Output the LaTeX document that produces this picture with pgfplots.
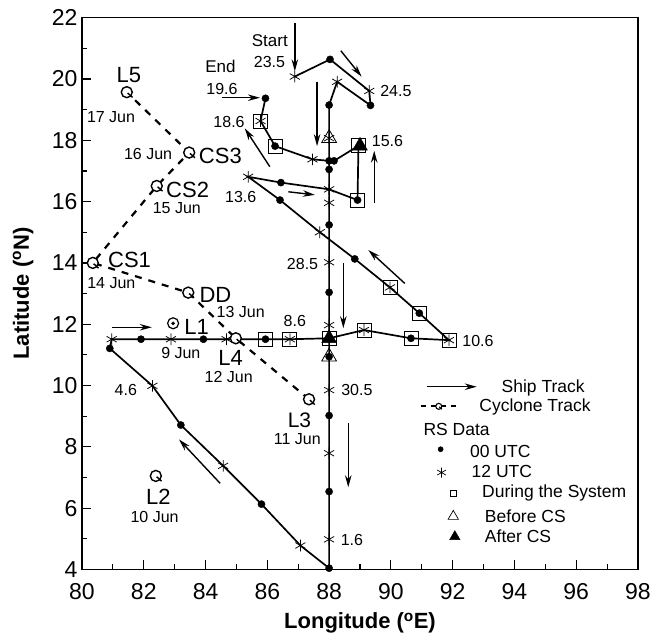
\documentclass[border=0pt]{standalone}
\usepackage{fontspec}
\setmainfont{Liberation Sans}
\usepackage{pgfplots}
\pgfplotsset{compat=1.18}
\usetikzlibrary{arrows.meta}

\pgfdeclareplotmark{cyc}{%
  \pgfpathcircle{\pgfpointorigin}{\pgfplotmarksize}\pgfusepathqfillstroke
  \pgfpathmoveto{\pgfpoint{0.15\pgfplotmarksize}{-0.15\pgfplotmarksize}}%
  \pgfpathlineto{\pgfpoint{1.05\pgfplotmarksize}{-0.95\pgfplotmarksize}}\pgfusepathqstroke}

\newcommand{\fs}[1]{\fontsize{#1}{#1}\selectfont}

\begin{document}
\begin{tikzpicture}
\begin{axis}[
  at={(82pt,71.6pt)}, anchor=south west,
  scale only axis, width=556pt, height=551.7pt,
  xmin=80, xmax=98, ymin=4, ymax=22,
  xtick={80,82,...,98}, ytick={4,6,...,22},
  minor x tick num=1, minor y tick num=1,
  tick align=inside, xtick pos=bottom, ytick pos=left,
  major tick length=9pt, minor tick length=5pt,
  axis line style={line width=1.4pt},
  every tick/.append style={line width=1.2pt, black},
  /pgf/number format/assume math mode=true,
  ticklabel style={font=\fs{23}},
  xticklabel style={yshift=-11pt},
  yticklabel style={xshift=-1pt},
  xlabel={\textbf{Longitude (\textsuperscript{o}E)}},
  ylabel={\textbf{Latitude (\textsuperscript{o}N)}},
  label style={font=\fs{22}},
  xlabel style={at={(axis description cs:0.5,-0.097)}, anchor=center},
  ylabel style={at={(axis description cs:-0.106,0.5)}, anchor=center},
  clip=false,
]
% ---- ship track line
\addplot[line width=1.7pt, mark=none] coordinates {
(86.89,20.08) (88.03,20.64) (89.3,19.61) (89.34,19.14) (88.26,19.91) (88.0,19.15)
(88.0,4.04) (87.07,4.78) (85.81,6.13) (84.57,7.38) (83.2,8.71) (82.28,9.99) (80.9,11.21)
(80.96,11.51) (81.91,11.51) (82.88,11.51) (83.93,11.51) (84.68,11.51) (85.94,11.51) (86.73,11.51)
(88.0,11.54) (89.13,11.81) (90.65,11.54) (91.88,11.48) (90.92,12.36) (89.97,13.2) (88.83,14.13)
(87.7,15.0) (86.41,16.05) (85.38,16.81) (86.44,16.62) (88.0,16.4) (88.92,16.05) (88.95,17.82)
(88.16,17.33) (88.0,17.33) (87.46,17.38) (86.25,17.81) (85.78,18.63) (85.94,19.37)};
% ---- during the system (boxes)
\addplot[only marks, mark=square, mark size=7pt, line width=0.8pt, mark options={fill=white}] coordinates {
(85.78,18.63) (86.25,17.81) (88.95,17.82) (88.92,16.05) (89.97,13.2) (90.92,12.36) (91.88,11.48)
(90.65,11.54) (89.13,11.81) (88.0,11.54) (86.73,11.51) (85.94,11.51)};
% ---- 00 UTC
\addplot[only marks, mark=*, mark size=3.6pt] coordinates {
(88.03,20.64) (89.34,19.14) (88.0,19.15) (85.94,19.37) (86.25,17.81) (88.16,17.33) (88.0,17.33)
(88.0,17.05) (86.44,16.62) (86.41,16.05) (88.92,16.05) (88.0,15.24) (88.83,14.13) (88.0,13.04)
(90.92,12.36) (81.91,11.51) (83.93,11.51) (85.94,11.51) (90.65,11.54) (88.0,10.94) (80.9,11.21)
(83.2,8.71) (88.0,9.02) (85.81,6.13) (88.0,6.54) (88.0,4.04)};
% ---- 12 UTC
\addplot[only marks, mark=asterisk, mark size=5.8pt, line width=0.75pt] coordinates {
(86.89,20.08) (89.3,19.61) (88.26,19.91) (88.0,18.07) (87.46,17.38) (85.78,18.63) (85.38,16.81)
(88.0,16.4) (88.0,15.96) (87.7,15.0) (88.0,14.02) (89.97,13.2) (88.0,11.97) (89.13,11.81)
(91.88,11.48) (80.96,11.51) (82.88,11.51) (84.68,11.51) (86.73,11.51) (88.0,9.85) (82.28,9.99)
(84.57,7.38) (88.0,7.79) (87.07,4.78) (88.0,4.98)};
% ---- before CS
\addplot[only marks, mark=triangle, mark size=8.5pt, line width=0.8pt] coordinates {(88.0,18.07) (88.0,10.94)};
% ---- after CS
\addplot[only marks, mark=triangle*, mark size=8.5pt] coordinates {(89.0,17.82) (88.0,11.54)};
% ---- cyclone track
\addplot[line width=2.2pt, dash pattern=on 7pt off 7pt, mark=none] coordinates {
(87.35,9.55) (84.98,11.54) (83.44,13.03) (80.35,14.0) (82.42,16.51) (83.47,17.6) (81.45,19.57)};
\addplot[only marks, mark=cyc, mark size=5.5pt, line width=1.4pt, mark options={fill=white}] coordinates {
(81.45,19.57) (83.47,17.6) (82.42,16.51) (80.35,14.0) (83.44,13.03) (84.98,11.54) (87.35,9.55) (82.39,7.05)};
\addplot[only marks, mark=o, mark size=5.5pt, line width=1.2pt, mark options={fill=white}] coordinates {(82.95,12.03)};
\addplot[only marks, mark=*, mark size=1.6pt] coordinates {(82.95,12.03)};
% ---- direction arrows
\begin{scope}[line width=1.4pt, -{Stealth[length=12pt,width=6.5pt]}]
\draw (axis cs:86.89,21.82) -- (axis cs:86.89,20.25);
\draw (axis cs:88.38,20.92) -- (axis cs:89.05,20.08);
\draw (axis cs:87.61,19.91) -- (axis cs:87.61,17.81);
\draw (axis cs:89.46,15.96) -- (axis cs:89.46,17.66);
\draw (axis cs:86.68,16.32) -- (axis cs:87.54,16.22);
\draw (axis cs:84.52,19.39) -- (axis cs:85.76,19.39);
\draw (axis cs:86.08,17.14) -- (axis cs:85.27,18.39);
\draw (axis cs:90.45,13.33) -- (axis cs:89.27,14.42);
\draw (axis cs:88.46,13.99) -- (axis cs:88.46,11.87);
\draw (axis cs:80.96,11.9) -- (axis cs:82.26,11.9);
\draw (axis cs:84.47,6.81) -- (axis cs:83.14,8.24);
\draw (axis cs:88.62,8.77) -- (axis cs:88.62,6.68);
\draw (axis cs:91.16,9.96) -- (axis cs:92.78,9.96);
\end{scope}
% ---- ship labels
\begin{scope}[every node/.style={font=\fs{16}, inner sep=0pt}]
\node[font=\fs{17}] at (axis cs:86.08,21.25) {Start};
\node at (axis cs:86.07,20.54) {23.5};
\node at (axis cs:90.16,19.61) {24.5};
\node at (axis cs:89.89,17.97) {15.6};
\node at (axis cs:85.14,16.16) {13.6};
\node[font=\fs{17}] at (axis cs:84.48,20.42) {End};
\node at (axis cs:84.53,19.67) {19.6};
\node at (axis cs:84.76,18.60) {18.6};
\node at (axis cs:87.14,13.96) {28.5};
\node at (axis cs:86.89,12.12) {8.6};
\node at (axis cs:92.82,11.45) {10.6};
\node at (axis cs:88.90,9.85) {30.5};
\node at (axis cs:88.74,4.96) {1.6};
\node at (axis cs:81.42,9.84) {4.6};
% cyclone labels
\node at (axis cs:80.94,18.77) {17 Jun};
\node at (axis cs:82.14,17.55) {16 Jun};
\node at (axis cs:83.07,15.78) {15 Jun};
\node at (axis cs:80.95,13.34) {14 Jun};
\node at (axis cs:85.14,12.40) {13 Jun};
\node at (axis cs:83.20,11.06) {9 Jun};
\node at (axis cs:84.75,10.28) {12 Jun};
\node at (axis cs:86.97,8.25) {11 Jun};
\node at (axis cs:82.35,5.72) {10 Jun};
\node[font=\fs{22}] at (axis cs:81.52,20.12) {L5};
\node[font=\fs{22}] at (axis cs:84.48,17.49) {CS3};
\node[font=\fs{22}] at (axis cs:83.42,16.39) {CS2};
\node[font=\fs{22}] at (axis cs:81.54,14.11) {CS1};
\node[font=\fs{22}] at (axis cs:84.32,12.97) {DD};
\node[font=\fs{22}] at (axis cs:83.71,11.91) {L1};
\node[font=\fs{22}] at (axis cs:84.81,10.90) {L4};
\node[font=\fs{21}] at (axis cs:87.04,8.88) {L3};
\node[font=\fs{22}] at (axis cs:82.47,6.36) {L2};
\end{scope}
% ---- legend
\addplot[line width=2pt, dash pattern=on 5pt off 5pt, mark=none] coordinates {(90.97,9.32) (92.1,9.32)};
\addplot[only marks, mark=cyc, mark size=3pt, line width=1.1pt, mark options={fill=white}] coordinates {(91.55,9.32)};
\addplot[only marks, mark=*, mark size=2.6pt] coordinates {(91.61,7.92)};
\addplot[only marks, mark=asterisk, mark size=5pt, line width=0.7pt] coordinates {(91.64,7.16)};
\addplot[only marks, mark=square, mark size=3pt, line width=0.7pt] coordinates {(92.02,6.48)};
\addplot[only marks, mark=triangle, mark size=6pt, line width=0.7pt] coordinates {(92.02,5.73)};
\addplot[only marks, mark=triangle*, mark size=6pt] coordinates {(92.07,5.07)};
\begin{scope}[every node/.style={font=\fs{17.5}, inner sep=0pt, anchor=west}]
\node at (axis cs:93.58,9.91) {Ship Track};
\node at (axis cs:92.86,9.29) {Cyclone Track};
\node at (axis cs:91.05,8.57) {RS Data};
\node at (axis cs:92.56,7.84) {00 UTC};
\node at (axis cs:92.61,7.19) {12 UTC};
\node at (axis cs:92.95,6.48) {During the System};
\node at (axis cs:93.04,5.74) {Before CS};
\node at (axis cs:93.04,5.07) {After CS};
\end{scope}
\end{axis}
\pgfresetboundingbox
\path[use as bounding box] (0,0) rectangle (665pt,641pt);
\end{tikzpicture}
\end{document}
